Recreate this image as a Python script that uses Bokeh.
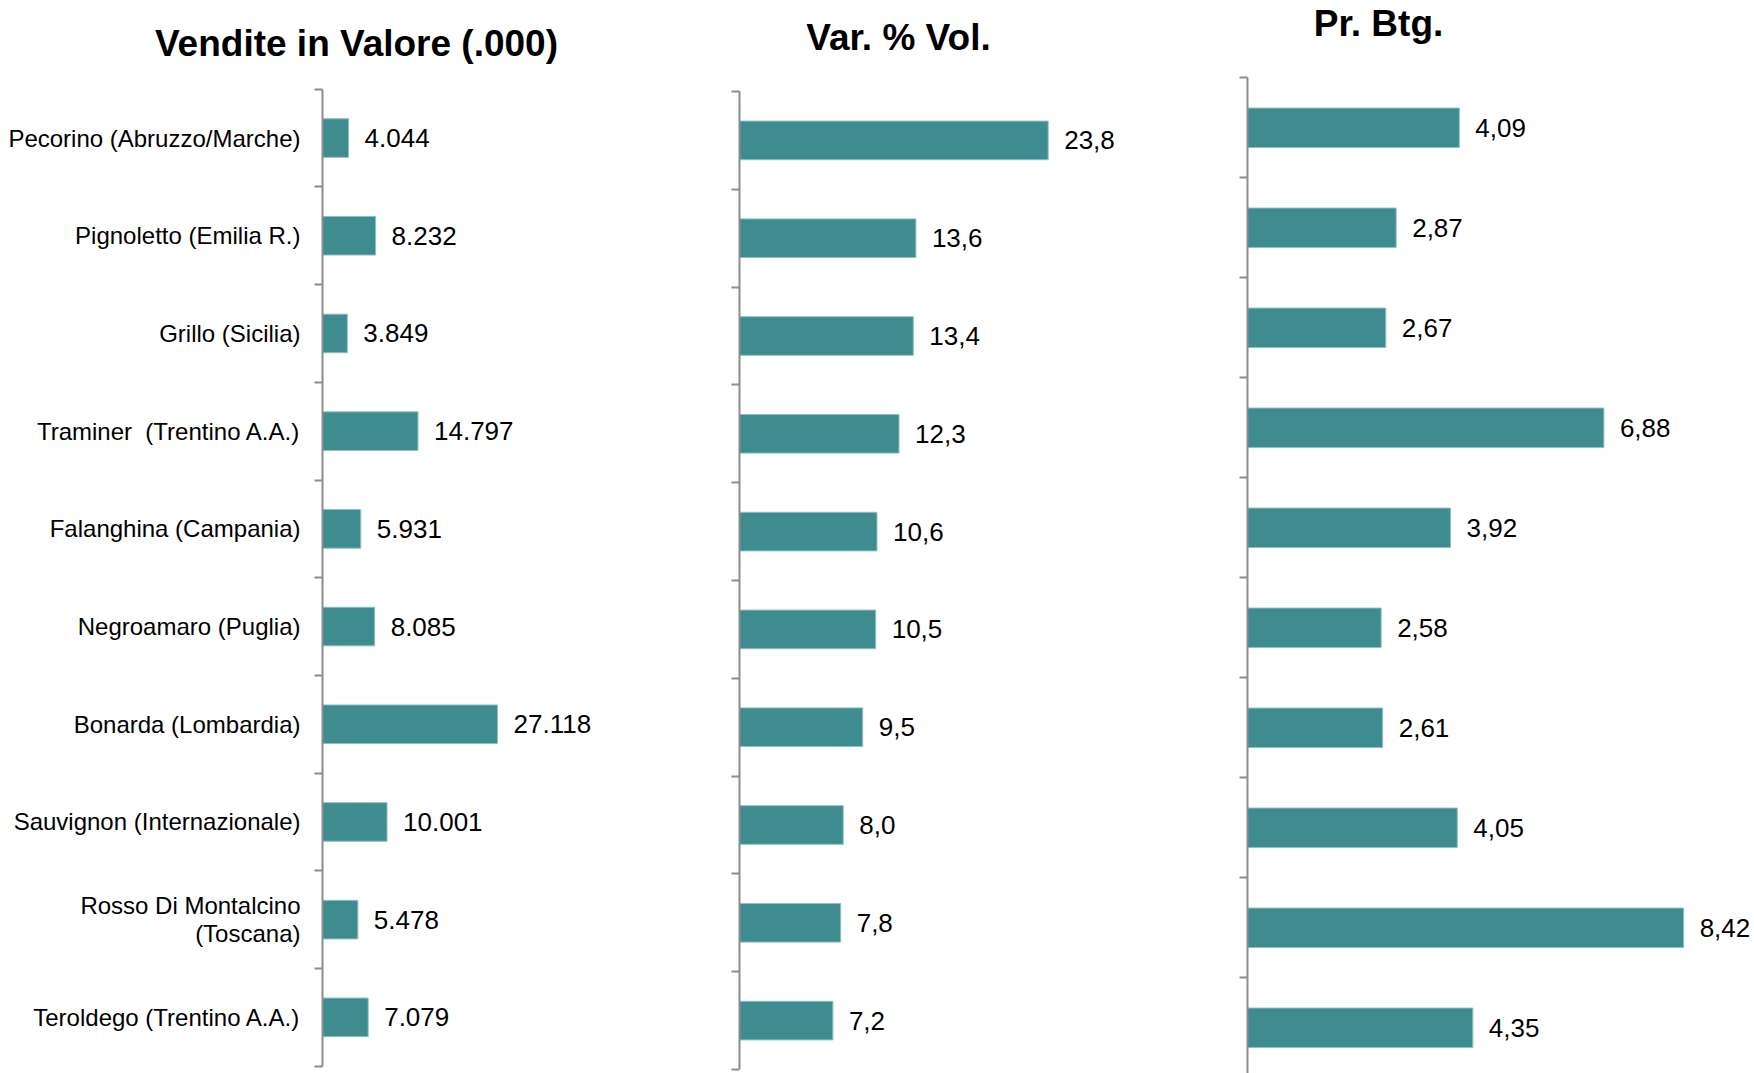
from bokeh.plotting import figure
from bokeh.models import Range1d, FixedTicker, Label
from bokeh.layouts import row
from bokeh.core.properties import value
from bokeh.embed import file_html
from bokeh.resources import INLINE

# ---- data ----
categories = [
    "Pecorino (Abruzzo/Marche)",
    "Pignoletto (Emilia R.)",
    "Grillo (Sicilia)",
    "Traminer \u00a0(Trentino A.A.)",
    "Falanghina (Campania)",
    "Negroamaro (Puglia)",
    "Bonarda (Lombardia)",
    "Sauvignon (Internazionale)",
    "Rosso Di Montalcino\n(Toscana)",
    "Teroldego (Trentino A.A.)",
]
vendite_valore = [4044, 8232, 3849, 14797, 5931, 8085, 27118, 10001, 5478, 7079]
var_vol = [23.8, 13.6, 13.4, 12.3, 10.6, 10.5, 9.5, 8.0, 7.8, 7.2]
prezzo_btg = [4.09, 2.87, 2.67, 6.88, 3.92, 2.58, 2.61, 4.05, 8.42, 4.35]

titles = ["Vendite in Valore (.000)", "Var. % Vol.", "Pr. Btg."]

FONT = "Liberation Sans"
BAR = "#3E8B90"
AXIS = "#8C8C8C"

fmt_vendite = [f"{v:,}".replace(",", ".") for v in vendite_valore]
fmt_var = [f"{v:.1f}".replace(".", ",") for v in var_vol]
fmt_prezzo = [f"{v:.2f}".replace(".", ",") for v in prezzo_btg]

n = len(categories)
centers = [i + 0.5 for i in range(n)]
bounds = [float(i) for i in range(n + 1)]

H = 1073


def panel(vals, labels, title, width, axis_x, b_right, axis_top, band_px,
          px_per_unit, show_cats, title_cx, title_cy):
    # frame spans the whole figure width (minus right border); the y axis is
    # fixed at value 0, placed axis_x pixels from the figure's left edge
    frame_w = width - b_right
    y_top = -axis_top / band_px
    y_bottom = (H - axis_top) / band_px
    p = figure(width=width, height=H, output_backend="svg",
               toolbar_location=None, min_border_left=0,
               min_border_right=b_right, min_border_top=0,
               min_border_bottom=0, x_axis_location=None,
               x_range=Range1d(-axis_x / px_per_unit,
                               (frame_w - axis_x) / px_per_unit),
               y_range=Range1d(y_bottom, y_top))
    p.outline_line_color = None
    p.xgrid.visible = False
    p.ygrid.visible = False
    p.hbar(y=centers, right=vals, left=0, height=0.395,
           fill_color=BAR, line_color="#8FC1C4", line_width=1)
    p.text(x=vals, y=centers, text=labels, x_offset=16,
           text_baseline="middle", text_align="left",
           text_font=value(FONT), text_font_size="26px", text_color="black")
    p.add_layout(Label(text=title, x=title_cx, y=H - title_cy,
                       x_units="screen", y_units="screen",
                       text_align="center", text_baseline="middle",
                       text_font=FONT, text_font_size="37px",
                       text_font_style="bold", text_color="black"))
    ax = p.yaxis[0]
    ax.fixed_location = 0
    ax.bounds = (0, n)
    ax.ticker = FixedTicker(ticks=centers if show_cats else [], minor_ticks=bounds)
    ax.axis_line_color = AXIS
    ax.axis_line_width = 2
    ax.major_tick_line_color = None
    ax.major_tick_out = 8
    ax.major_tick_in = 0
    ax.minor_tick_line_color = AXIS
    ax.minor_tick_line_width = 2
    ax.minor_tick_out = 8
    ax.minor_tick_in = 0
    ax.major_label_standoff = 14
    ax.major_label_text_font = FONT
    ax.major_label_text_font_size = "24px"
    ax.major_label_text_color = "black"
    ax.major_label_text_line_height = 1.05
    if show_cats:
        ax.major_label_overrides = {c: lab for c, lab in zip(centers, categories)}
    return p


p1 = panel(vendite_valore, fmt_vendite, titles[0], 700, 322, 10, 88.7,
           97.7, 6.453 / 1000, True, 356, 42.5)
p2 = panel(var_vol, fmt_var, titles[1], 500, 739 - 700, 10, 91.0,
           97.8, 12.97, False, 898 - 700, 37)
p3 = panel(prezzo_btg, fmt_prezzo, titles[2], 554, 1247 - 1200, 0, 77.3,
           100.0, 51.8, False, 1378 - 1200, 23)

layout = row(p1, p2, p3)
open("out.html", "w").write(file_html(layout, INLINE))
